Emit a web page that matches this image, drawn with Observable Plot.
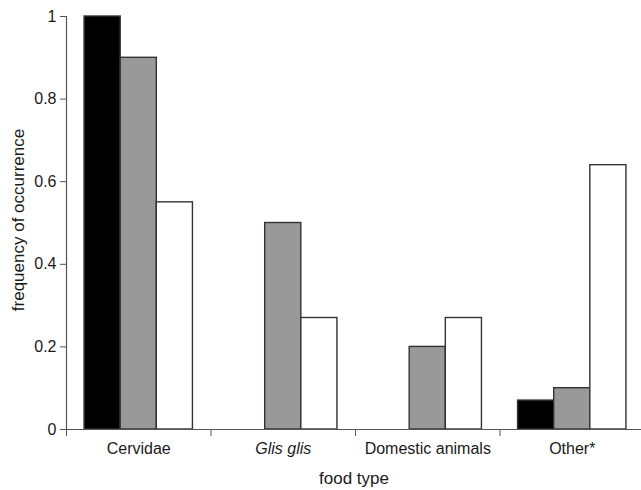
<!DOCTYPE html>
<html>
<head>
<meta charset="utf-8">
<script src="https://cdn.jsdelivr.net/npm/d3@7"></script>
<script src="https://cdn.jsdelivr.net/npm/@observablehq/plot@0.6"></script>
<style>
  html, body { margin: 0; padding: 0; background: #fff; }
  #chart svg { display: block; }
</style>
</head>
<body>
<div id="chart"></div>
<script>
// Data
const categories = ["Cervidae", "Glis glis", "Domestic animals", "Other*"];
const italicCategories = ["Glis glis"];
const seriesNames = ["black", "grey", "white"];
const valuesBlack = [1.0, 0, 0, 0.07];
const valuesGrey = [0.9, 0.5, 0.2, 0.1];
const valuesWhite = [0.55, 0.27, 0.27, 0.64];
const seriesFills = ["#000000", "#999999", "#ffffff"];
const yTicks = [0, 0.2, 0.4, 0.6, 0.8, 1];
const yLabel = "frequency of occurrence";
const xLabel = "food type";

const seriesValues = [valuesBlack, valuesGrey, valuesWhite];
const barWidth = 0.25, groupPad = 0.125;
const rows = [];
categories.forEach((c, g) => {
  seriesValues.forEach((vals, s) => {
    if (vals[g] > 0) {
      const x1 = g + groupPad + s * barWidth;
      rows.push({category: c, series: seriesNames[s], x1, x2: x1 + barWidth, value: vals[g], fill: seriesFills[s]});
    }
  });
});

const font = "'Liberation Sans', Arial, Helvetica, sans-serif";
const chart = Plot.plot({
  width: 641,
  height: 490,
  marginLeft: 66,
  marginRight: 0,
  marginTop: 16,
  marginBottom: 61,
  style: {fontFamily: font, fontSize: "16px", color: "#1a1a1a", background: "#fff"},
  x: {domain: [0, 4], range: [66, 644]},
  y: {domain: [0, 1], range: [429, 16]},
  color: {type: "identity"},
  marks: [
    Plot.rectY(rows, {x1: "x1", x2: "x2", y1: 0, y2: "value", fill: "fill", stroke: "#333", strokeWidth: 1.4}),
    Plot.ruleY([0], {stroke: "#555", strokeWidth: 1.2}),
    Plot.ruleX([0], {y1: 0, y2: 1, stroke: "#555", strokeWidth: 1.2}),
    Plot.axisY({ticks: yTicks, tickFormat: d => String(d), tickSize: 6, tickPadding: 4, label: null, stroke: "#555"}),
    Plot.axisX({ticks: d3.range(categories.length), tickFormat: () => "", tickSize: 7, label: null, stroke: "#555"}),
    Plot.axisX({ticks: categories.map((c, i) => i + 0.5), tickFormat: d => categories[Math.floor(d)], tickSize: 0, tickPadding: 13, label: null}),
    Plot.text([yLabel], {frameAnchor: "left", textAnchor: "middle", lineAnchor: "middle", rotate: -90, dx: -48, dy: -3, fontSize: 17, fill: "#1a1a1a"}),
    Plot.text([xLabel], {frameAnchor: "bottom", textAnchor: "middle", lineAnchor: "middle", dy: 49, fontSize: 17, fill: "#1a1a1a"})
  ]
});

// italicize species name tick label
d3.select(chart).selectAll("text").each(function() {
  if (italicCategories.includes(this.textContent)) this.setAttribute("font-style", "italic");
});

document.getElementById("chart").appendChild(chart);
</script>
</body>
</html>
